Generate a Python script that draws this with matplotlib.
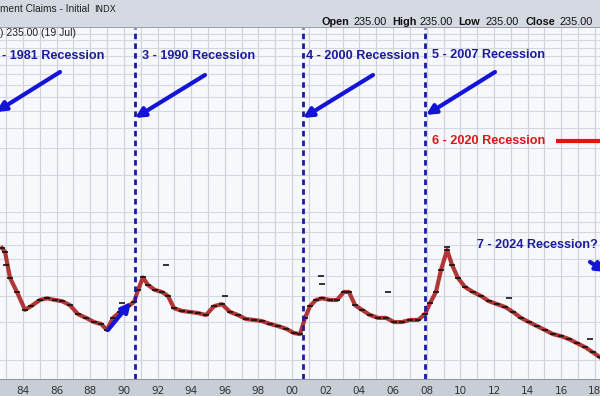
import matplotlib.pyplot as plt
from matplotlib.patches import Rectangle

# Weekly initial jobless claims (thousands)
dates = [1982.75, 1982.93, 1983.23, 1983.64, 1984.12, 1984.48, 1985.01, 1985.43, 1985.90,
         1986.32, 1986.79, 1987.27, 1987.75, 1988.22, 1988.64, 1988.99, 1989.35, 1989.77,
         1990.24, 1990.60, 1990.84, 1991.13, 1991.43, 1991.85, 1992.26, 1992.62, 1992.98,
         1993.45, 1993.93, 1994.40, 1994.88, 1995.36, 1995.83, 1996.31, 1996.78, 1997.26,
         1997.73, 1998.21, 1998.68, 1999.16, 1999.64, 2000.11, 2000.47, 2000.77, 2001.06,
         2001.42, 2001.78, 2002.25, 2002.67, 2003.08, 2003.38, 2003.74, 2004.15, 2004.63,
         2005.11, 2005.58, 2006.06, 2006.53, 2007.01, 2007.49, 2007.90, 2008.20, 2008.55,
         2008.85, 2009.21, 2009.51, 2009.86, 2010.28, 2010.75, 2011.23, 2011.70, 2012.18,
         2012.66, 2013.13, 2013.61, 2014.08, 2014.56, 2015.03, 2015.51, 2015.99, 2016.46,
         2016.94, 2017.41, 2017.89, 2018.30]
claims = [675, 648, 487, 418, 344, 358, 383, 390, 383,
          378, 362, 328, 315, 301, 295, 276, 315, 336,
          358, 374, 427, 490, 451, 427, 418, 400, 350,
          340, 336, 332, 325, 358, 366, 336, 325, 311,
          308, 304, 295, 288, 280, 267, 264, 315, 358,
          383, 390, 383, 383, 418, 418, 362, 344, 325,
          315, 315, 301, 301, 308, 308, 328, 370, 418,
          531, 661, 561, 487, 441, 418, 400, 378, 366,
          355, 336, 315, 301, 288, 276, 264, 258, 250,
          239, 229, 216, 205]

# a few isolated weekly readings sitting above the band
spike_dates = [1983.0, 1989.9, 1992.5, 1996.0, 2001.72, 2001.80, 2005.70, 2009.20, 2012.9, 2017.7]
spike_vals = [560, 372, 561, 400, 500, 455, 418, 680, 390, 250]

recessions = [1990.66, 2000.66, 2007.92]
year_ticks = list(range(1984, 2019, 2))
tick_labels = ['%02d' % (y % 100) for y in year_ticks]

W, H = 600, 396
fig = plt.figure(figsize=(6, 3.96), dpi=100)
fig.patch.set_facecolor('#f7f8fb')

top_px, bot_px = 28, 379
ax = fig.add_axes([0, (H - bot_px) / H, 1, (bot_px - top_px) / H])
ax.set_facecolor('#f7f8fb')
ax.set_yscale('log')
ax.set_xlim(1982.633, 2018.304)
ax.set_ylim(161.7, 7447)

# grid
for yr in range(1983, 2019):
    ax.axvline(yr, color='#cdd1dc', lw=0.8, zorder=0)
grid_vals = list(range(200, 1000, 100)) + list(range(1000, 7500, 500))
for v in grid_vals:
    ax.axhline(v, color='#d3d7e1', lw=0.8, zorder=0)

ax.set_yticks([])
ax.minorticks_off()
ax.set_xticks(year_ticks)
ax.set_xticklabels(tick_labels)
ax.tick_params(axis='x', length=0, pad=5, labelsize=7.5, labelcolor='#333333')
ax.tick_params(axis='y', length=0)
for s in ax.spines.values():
    s.set_visible(False)

# data band
ax.plot(dates, claims, color='#a81414', lw=3.0, alpha=0.85, zorder=3)
ax.plot(dates, claims, ls='none', marker='_', ms=4.5, mew=1.2, color='#111111', zorder=4)
ax.plot(spike_dates, spike_vals, ls='none', marker='_', ms=4, mew=1.2, color='#111111', zorder=4)

# recession markers
for d in recessions:
    ax.axvline(d, color='#1a1aa8', lw=2, ls=(0, (2, 1.5)), zorder=5)


def axy(px, py):
    return (px / W, (bot_px - py) / (bot_px - top_px))


navy = '#1c1c9c'
arrow_blue = '#1414d8'
lab_font = dict(family=['Liberation Sans', 'DejaVu Sans'], weight='bold', fontsize=9.1)

labels = [('- 1981 Recession', 2, 56), ('3 - 1990 Recession', 142, 56),
          ('4 - 2000 Recession', 306, 56), ('5 - 2007 Recession', 432, 55)]
for txt, px, py in labels:
    ax.text(*axy(px, py), txt, transform=ax.transAxes, color=navy, va='center', ha='left',
            zorder=6, **lab_font)

arrows = [((60, 72), (-4, 112)), ((205, 75), (135, 118)),
          ((373, 75), (303, 118)), ((495, 72), (426, 115)),
          ((108, 330), (131, 302)), ((590, 262), (606, 272))]
for (x0, y0), (x1, y1) in arrows:
    ax.annotate('', xy=axy(x1, y1), xytext=axy(x0, y0), xycoords='axes fraction',
                textcoords='axes fraction',
                arrowprops=dict(arrowstyle='-|>', lw=3, color=arrow_blue, mutation_scale=14,
                                shrinkA=0, shrinkB=0), zorder=7, annotation_clip=False)

ax.text(*axy(432, 141), '6 - 2020 Recession', transform=ax.transAxes, color='#d81818',
        va='center', ha='left', zorder=6, **lab_font)
ax.plot([556 / W, 1.0], [axy(0, 141)[1]] * 2, transform=ax.transAxes, color='#e01515',
        lw=3, solid_capstyle='butt', zorder=6, clip_on=False)
ax.text(*axy(477, 245), '7 - 2024 Recession?', transform=ax.transAxes, color=navy,
        va='center', ha='left', zorder=6, **lab_font)

ax.text(*axy(0, 33), ') 235.00 (19 Jul)', transform=ax.transAxes, fontsize=7.5,
        family='Liberation Sans', color='#222222', va='center', ha='left')

# header and bottom bands (behind the axes)
fig.patches.append(Rectangle((0, 1 - 27 / H), 1, 27 / H, transform=fig.transFigure,
                             facecolor='#d5d9e2', edgecolor='none', zorder=-2))
fig.patches.append(Rectangle((0, 1 - 28 / H), 1, 1.2 / H, transform=fig.transFigure,
                             facecolor='#9aa0ad', edgecolor='none', zorder=-1))
fig.patches.append(Rectangle((0, 0), 1, (H - bot_px) / H, transform=fig.transFigure,
                             facecolor='#c9cdd6', edgecolor='none', zorder=-2))
fig.patches.append(Rectangle((0, (H - bot_px) / H - 1.2 / H), 1, 1.2 / H,
                             transform=fig.transFigure, facecolor='#8d93a0',
                             edgecolor='none', zorder=-1))

fig.text(0, 1 - 9 / H, 'ment Claims - Initial', fontsize=7.3, family='Liberation Sans',
         color='#222222', va='center', ha='left')
fig.text(94 / W, 1 - 9.5 / H, 'INDX', fontsize=6.3, family='DejaVu Sans',
         color='#222222', va='center', ha='left')

ohlc = [('Open', 322), ('235.00', 353), ('High', 392), ('235.00', 420),
        ('Low', 458), ('235.00', 485), ('Close', 525), ('235.00', 560)]
for txt, px in ohlc:
    fig.text(px / W, 1 - 22 / H, txt, fontsize=7.8, family='Liberation Sans',
             weight='normal' if txt[0].isdigit() else 'bold',
             color='#111111', va='center', ha='left')

fig.savefig('out.png', dpi=100, facecolor=fig.get_facecolor())
